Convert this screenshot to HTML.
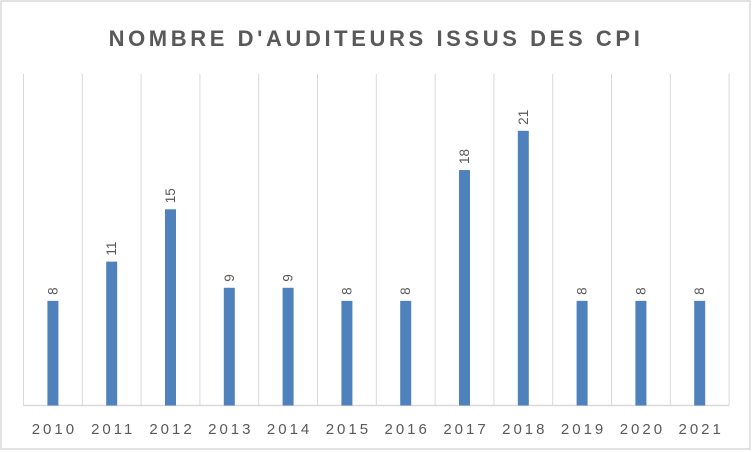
<!DOCTYPE html>
<html><head><meta charset="utf-8"><style>
body{margin:0;background:#fff;}
#c{position:relative;width:752px;height:452px;overflow:hidden;}
svg text{font-family:"Liberation Sans",sans-serif;fill:#595959;}
</style></head><body>
<div id="c">
<svg id="s" width="752" height="452">
<rect x="1" y="1" width="749" height="448" fill="#fff" stroke="#d9d9d9" stroke-width="1.5"/>
<text x="376" y="46" text-anchor="middle" font-size="22" font-weight="bold" letter-spacing="3.6">NOMBRE D'AUDITEURS ISSUS DES CPI</text>
</svg>
</div>
<script>
const categories=["2010","2011","2012","2013","2014","2015","2016","2017","2018","2019","2020","2021"];
const values=[8,11,15,9,9,8,8,18,21,8,8,8];
const labels=["8","11","15","9","9","8","8","18","21","8","8","8"];
const svg=document.getElementById('s');
const NS="http://www.w3.org/2000/svg";
const left=23.5,step=58.8,base=405.5,unit=13.08,barW=11;
function xPos(i){return left+step*i+step/2;}
function yPos(v){return base-v*unit;}
function mk(t,a){const e=document.createElementNS(NS,t);for(const k in a)e.setAttribute(k,a[k]);svg.appendChild(e);return e;}
for(let i=0;i<=categories.length;i++){
 const g=mk('line',{x1:left+step*i,x2:left+step*i,y1:74,y2:base,stroke:'#d9d9d9','stroke-width':1});
 
 
}
const ax=mk('line',{x1:left,x2:left+step*categories.length,y1:base,y2:base,stroke:'#d9d9d9','stroke-width':1.5});


categories.forEach((c,i)=>{
 const cx=xPos(i),y=yPos(values[i]);
 const b=mk('rect',{x:cx-barW/2,y:y,width:barW,height:base-y,fill:'#4f81bd'});
 
 
 const l=mk('text',{x:0,y:0,'font-size':13.5,'text-anchor':'start',transform:`translate(${cx+4.5},${y-6}) rotate(-90)`});
 l.textContent=labels[i];
 
 
 const t=mk('text',{x:cx+1.5,y:434,'font-size':15,'text-anchor':'middle','letter-spacing':'3'});
 t.textContent=c;
 
 
});
</script>
</body></html>
